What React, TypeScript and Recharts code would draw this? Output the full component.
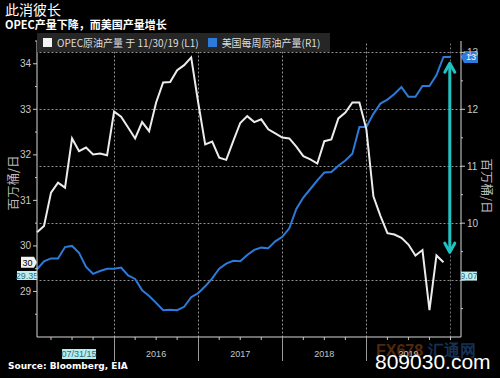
import { ComposedChart, Line, XAxis, YAxis, ReferenceLine } from 'recharts';

// monthly points, Jan 2015 .. Nov 2019 (OPEC) / Dec 2019 (US weekly, sampled)
const opecOutput = [
  30.30, 30.44, 31.17, 31.39, 31.28, 32.36, 32.08, 32.16, 32.01, 32.03, 31.99,
  32.95, 32.84, 32.60, 32.36, 32.72, 32.52, 33.15, 33.59, 33.60, 33.86, 33.97, 34.14,
  33.15, 32.23, 32.29, 31.94, 31.89, 32.30, 32.70, 32.85, 32.72, 32.78, 32.56, 32.47,
  32.38, 32.36, 32.18, 31.97, 31.90, 31.81, 32.30, 32.34, 32.80, 32.93, 33.15, 33.15,
  32.56, 31.09, 30.66, 30.28, 30.25, 30.18, 30.03, 29.79, 29.91, 28.59, 29.79, 29.64,
];

const usWeeklyOutput = [
  9.19, 9.33, 9.38, 9.38, 9.58, 9.60, 9.48, 9.23, 9.11, 9.16, 9.20,
  9.20, 9.22, 9.08, 9.02, 8.82, 8.72, 8.60, 8.47, 8.48, 8.47, 8.53, 8.70,
  8.77, 8.89, 9.03, 9.20, 9.29, 9.34, 9.33, 9.44, 9.53, 9.57, 9.56, 9.68,
  9.76, 9.91, 10.25, 10.45, 10.60, 10.75, 10.89, 10.90, 11.01, 11.10, 11.22, 11.69,
  11.69, 11.92, 12.10, 12.17, 12.27, 12.39, 12.22, 12.22, 12.41, 12.41, 12.60, 12.92, 12.92,
];

const yearLabels = ['2016', '2017', '2018', '2019'];
const yearStarts = [11, 23, 35, 47]; // month index where each year begins
const yearMids = [17, 29, 41, 53];
const cursorLabel = '07/31/15';
const cursorIndex = 6;

const leftTicks = [28.5, 29, 29.5, 30, 30.5, 31, 31.5, 32, 32.5, 33, 33.5, 34, 34.5];
const rightTicks = [8.5, 9, 9.5, 10, 10.5, 11, 11.5, 12, 12.5, 13];
const rightGrid = [9, 10, 11, 12, 13];
const lastCursor = 58.9;

const data = usWeeklyOutput.map((us, i) => ({ i, opec: opecOutput[i] ?? null, us }));

const quarterTicks = usWeeklyOutput.map((_, i) => i).filter((i) => i % 3 === 2);
const xTicks = [...quarterTicks, cursorIndex].sort((a, b) => a - b);

const AXIS = '#c8c8c8';
const FONT = '"Liberation Sans", Arial, sans-serif';
const CJK = '"Noto Sans CJK SC", sans-serif';

const crisp = (v: number) => Math.round(v) + 0.5;

// dotted grid line snapped to the pixel grid
function GridLine(props: any) {
  const { x1, y1, x2, y2, color } = props;
  return (
    <line
      x1={crisp(x1)} y1={crisp(y1)} x2={crisp(x2)} y2={crisp(y2)}
      stroke={color || '#909090'} strokeWidth={1} strokeDasharray="2 2"
    />
  );
}

function LeftTick({ x, y, payload }: any) {
  const major = Number.isInteger(payload.value);
  return (
    <g>
      <line x1={x - (major ? 4 : 2)} y1={y} x2={x} y2={y} stroke={AXIS} />
      {major && (
        <text x={x - 6} y={y + 3.5} textAnchor="end" fill={AXIS} fontSize={10} fontFamily={FONT}>
          {payload.value}
        </text>
      )}
    </g>
  );
}

function RightTick({ x, y, payload }: any) {
  const major = Number.isInteger(payload.value);
  return (
    <g>
      <line x1={x} y1={y} x2={x + (major ? 4 : 2)} y2={y} stroke={AXIS} />
      {major && payload.value !== 9 && (
        <text x={x + 6} y={y + 3.5} fill={AXIS} fontSize={10} fontFamily={FONT}>
          {payload.value}
        </text>
      )}
    </g>
  );
}

function BottomTick({ x, y, payload }: any) {
  const v = payload.value;
  const yi = yearStarts.indexOf(v);
  const mi = yearMids.indexOf(v);
  return (
    <g>
      {yi >= 0 ? (
        <line x1={crisp(x)} y1={y} x2={crisp(x)} y2={y + 24} stroke="#9a9a9a" />
      ) : v % 3 === 2 ? (
        <line x1={x} y1={y} x2={x} y2={y + 3} stroke={AXIS} />
      ) : null}
      {mi >= 0 && (
        <text x={x} y={y + 20} textAnchor="middle" fill={AXIS} fontSize={9} fontFamily={FONT}>
          {yearLabels[mi]}
        </text>
      )}
      {v === cursorIndex && (
        <g>
          <rect x={x - 17} y={y + 12} width={34} height={10} fill="#b9ecec" />
          <text x={x} y={y + 20} textAnchor="middle" fill="#2b6f80" fontSize={9} fontFamily={FONT}>
            {cursorLabel}
          </text>
        </g>
      )}
    </g>
  );
}

function tag(text: string, side: 'left' | 'right', bg: string, fg: string, w: number, h: number, pointer: boolean) {
  return (props: any) => {
    const { viewBox } = props;
    const cy = viewBox.y;
    const edge = side === 'left' ? viewBox.x : viewBox.x + viewBox.width;
    const p = pointer ? 3 : 0;
    const x0 = side === 'left' ? edge - w - p : edge + p;
    const pts =
      side === 'left'
        ? `${x0},${cy - h / 2} ${x0 + w},${cy - h / 2} ${edge},${cy} ${x0 + w},${cy + h / 2} ${x0},${cy + h / 2}`
        : `${edge},${cy} ${x0},${cy - h / 2} ${x0 + w},${cy - h / 2} ${x0 + w},${cy + h / 2} ${x0},${cy + h / 2}`;
    return (
      <g>
        <polygon points={pts} fill={bg} />
        <text x={x0 + w / 2} y={cy + 3.2} textAnchor="middle" fill={fg} fontSize={9} fontFamily={FONT}>
          {text}
        </text>
      </g>
    );
  };
}

function DoubleArrow(props: any) {
  const { x1, y1, y2 } = props;
  const top = Math.min(y1, y2);
  const bot = Math.max(y1, y2);
  return (
    <g stroke="#21c2c2" strokeWidth={3} fill="none" strokeLinecap="round" strokeLinejoin="round">
      <line x1={x1} y1={top + 1} x2={x1} y2={bot - 1} />
      <polyline points={`${x1 - 5},${top + 9} ${x1},${top} ${x1 + 5},${top + 9}`} />
      <polyline points={`${x1 - 5},${bot - 9} ${x1},${bot} ${x1 + 5},${bot - 9}`} />
    </g>
  );
}

export default function App() {
  return (
    <div style={{ position: 'relative', width: 500, height: 378, background: '#000', overflow: 'hidden' }}>
      <style>{'body{margin:0;background:#000}'}</style>
      <div style={{ position: 'absolute', left: 5, top: 0, color: '#fff', fontFamily: CJK, fontSize: 14, lineHeight: '18px' }}>
        此消彼长
      </div>
      <div style={{ position: 'absolute', left: 5, top: 17, color: '#fff', fontFamily: CJK, fontSize: 11, fontWeight: 700, lineHeight: '14px' }}>
        OPEC产量下降，而美国产量增长
      </div>

      <ComposedChart width={500} height={378} data={data} margin={{ top: 41, right: 0, bottom: 0, left: 0 }}>
        <XAxis
          dataKey="i"
          type="number"
          domain={[0, 60.5]}
          ticks={xTicks}
          interval={0}
          height={41}
          tickSize={0}
          tickMargin={0}
          axisLine={{ stroke: '#d8d8d8' }}
          tick={<BottomTick />}
        />
        <YAxis
          yAxisId="left"
          orientation="left"
          domain={[28, 34.5]}
          ticks={leftTicks}
          interval={0}
          width={37}
          tickSize={0}
          tickMargin={0}
          axisLine={{ stroke: '#d8d8d8' }}
          tick={<LeftTick />}
        />
        <YAxis
          yAxisId="right"
          orientation="right"
          domain={[8, 13.2]}
          ticks={rightTicks}
          interval={0}
          width={39}
          tickSize={0}
          tickMargin={0}
          axisLine={{ stroke: '#d8d8d8' }}
          tick={<RightTick />}
        />
        {rightGrid.map((v) => (
          <ReferenceLine key={'h' + v} yAxisId="right" y={v} shape={<GridLine />} />
        ))}
        {yearStarts.map((v) => (
          <ReferenceLine key={'v' + v} yAxisId="right" x={v} shape={<GridLine />} />
        ))}
        <ReferenceLine yAxisId="right" x={lastCursor} shape={<GridLine color="#707070" />} />
        <Line
          yAxisId="right"
          type="linear"
          dataKey="us"
          stroke="#2c7ad9"
          strokeWidth={2}
          dot={false}
          isAnimationActive={false}
        />
        <Line
          yAxisId="left"
          type="linear"
          dataKey="opec"
          stroke="#ececec"
          strokeWidth={2}
          dot={false}
          connectNulls={false}
          isAnimationActive={false}
        />
        <ReferenceLine
          yAxisId="right"
          segment={[{ x: lastCursor, y: 12.81 }, { x: lastCursor, y: 9.49 }]}
          shape={<DoubleArrow />}
        />
        <ReferenceLine yAxisId="left" y={29.64} stroke="none" label={{ content: tag('30', 'left', '#f2f2f2', '#000', 13, 11, true) }} />
        <ReferenceLine yAxisId="left" y={29.35} stroke="none" label={{ content: tag('29.35', 'left', '#bfeeee', '#2b6f80', 20, 9, false) }} />
        <ReferenceLine yAxisId="right" y={12.92} stroke="none" label={{ content: tag('13', 'right', '#2c7ad9', '#fff', 14, 12, true) }} />
        <ReferenceLine yAxisId="right" y={9.07} stroke="none" label={{ content: tag('9.07', 'right', '#bfeeee', '#2b6f80', 16, 9, false) }} />
      </ComposedChart>

      {/* legend */}
      <div
        style={{
          position: 'absolute', left: 37, top: 33, width: 293, height: 19, background: '#262626',
          display: 'flex', alignItems: 'center', gap: 5, paddingLeft: 6, boxSizing: 'border-box',
          fontFamily: CJK, fontSize: 10, color: '#dedede', whiteSpace: 'nowrap',
        }}
      >
        <span style={{ width: 9, height: 9, background: '#f4f4f4', display: 'inline-block' }} />
        <span>OPEC原油产量 于 11/30/19 (L1)</span>
        <span style={{ width: 9, height: 9, background: '#2c7ad9', display: 'inline-block', marginLeft: 4 }} />
        <span>美国每周原油产量(R1)</span>
      </div>

      {/* axis titles */}
      <div style={{ position: 'absolute', left: 12, top: 183, transform: 'translate(-50%,-50%) rotate(-90deg)', color: '#b8b8b8', fontFamily: CJK, fontSize: 12.5, whiteSpace: 'nowrap' }}>
        百万桶/日
      </div>
      <div style={{ position: 'absolute', left: 487, top: 186, transform: 'translate(-50%,-50%) rotate(90deg)', color: '#b8b8b8', fontFamily: CJK, fontSize: 12.5, whiteSpace: 'nowrap' }}>
        百万桶/日
      </div>

      <div style={{ position: 'absolute', left: 8, top: 361, color: '#fff', fontFamily: '"DejaVu Sans", sans-serif', fontSize: 9, fontWeight: 700 }}>
        Source: Bloomberg, EIA
      </div>

      {/* watermark */}
      <div style={{ position: 'absolute', left: 376, top: 341, color: '#c8641e', opacity: 0.4, fontFamily: FONT, fontSize: 16, fontWeight: 700 }}>
        FX678 <span style={{ color: '#3a78c8' }}>汇通网</span>
      </div>
      <div style={{ position: 'absolute', left: 375, top: 350, color: '#fff', fontFamily: FONT, fontSize: 21 }}>
        809030.com
      </div>
    </div>
  );
}
